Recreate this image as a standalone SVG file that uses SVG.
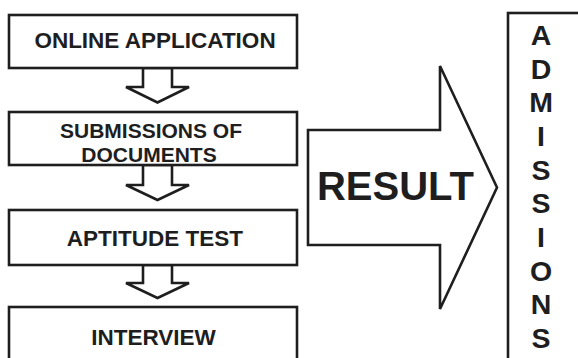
<svg xmlns="http://www.w3.org/2000/svg" width="578" height="358" viewBox="0 0 578 358">
<style>
.box{fill:#fff;stroke:#1e1e1e;stroke-width:2.6}
.arr{fill:#fff;stroke:#1e1e1e;stroke-width:2.6;stroke-linejoin:miter}
.t{font-family:"Liberation Sans",Arial,sans-serif;font-weight:bold;fill:#1e1e1e;text-anchor:middle}
.s{font-size:22.5px}
.s2{font-size:21px}
.big{font-size:40px}
.v{font-size:28.5px}
</style>
<rect width="578" height="358" fill="#fff"/>
<g id="connectors">
<polygon class="arr" points="143,68 172,68 172,87 189,87 157.5,102.5 126,87 143,87"/>
<polygon class="arr" points="143,165 172,165 172,185 189,185 157.5,200 126,185 143,185"/>
<polygon class="arr" points="143,265 172,265 172,283 189,283 157.5,298 126,283 143,283"/>
</g>
<g id="online">
<rect class="box" x="9" y="15" width="288" height="53"/>
<text class="t s" x="155" y="48">ONLINE APPLICATION</text>
</g>
<g id="submissions">
<rect class="box" x="9" y="112" width="288" height="53"/>
<text class="t s2" x="151" y="137.5">SUBMISSIONS OF</text>
<text class="t s2" x="149" y="161.5">DOCUMENTS</text>
</g>
<g id="aptitude">
<rect class="box" x="9" y="210" width="288" height="55"/>
<text class="t s" x="155" y="246">APTITUDE TEST</text>
</g>
<g id="interview">
<rect class="box" x="9" y="307" width="288" height="70"/>
<text class="t s" x="153.5" y="344.5">INTERVIEW</text>
</g>
<g id="result">
<polygon class="arr" points="308,130 440,130 440,66 497,187.5 440,309 440,245 308,245"/>
<text class="t big" x="395.5" y="200">RESULT</text>
</g>
<g id="admissions">
<rect class="box" x="508" y="13" width="90" height="370"/>
<text class="t v" x="541" y="45">A</text>
<text class="t v" x="541" y="78.5">D</text>
<text class="t v" x="541" y="112">M</text>
<text class="t v" x="541" y="146">I</text>
<text class="t v" x="541" y="179.5">S</text>
<text class="t v" x="541" y="213">S</text>
<text class="t v" x="541" y="247">I</text>
<text class="t v" x="541" y="280.5">O</text>
<text class="t v" x="541" y="314">N</text>
<text class="t v" x="541" y="348">S</text>
</g>
</svg>
